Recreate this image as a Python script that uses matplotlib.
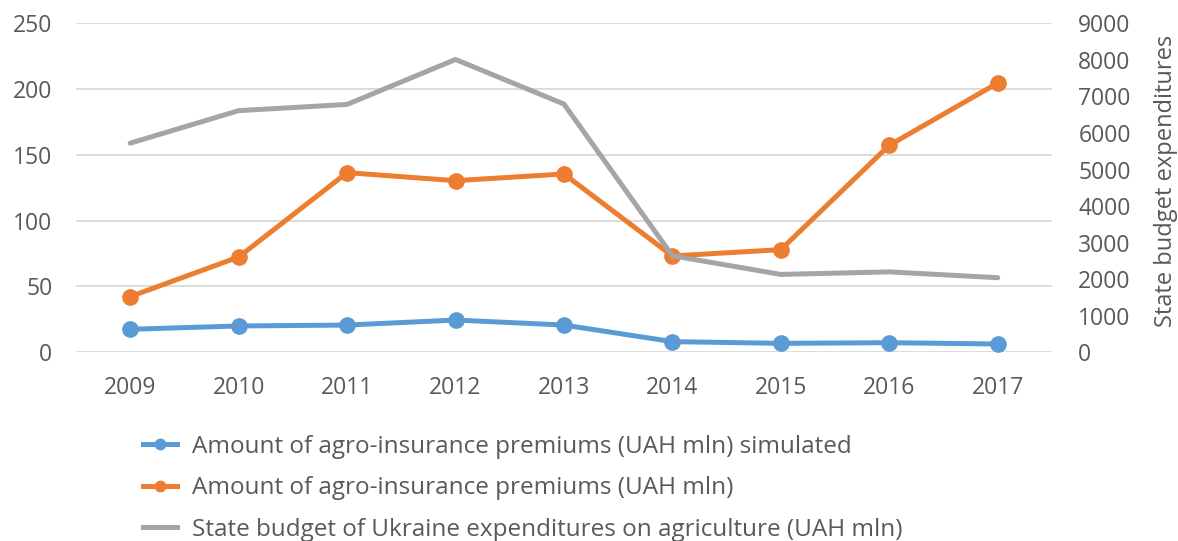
import matplotlib.pyplot as plt
from matplotlib.lines import Line2D

years = ['2009', '2010', '2011', '2012', '2013', '2014', '2015', '2016', '2017']
premiums_simulated = [17.5, 20.0, 20.7, 24.5, 20.7, 8.1, 6.8, 7.3, 6.3]
premiums_actual = [42.3, 72.4, 136.5, 130.4, 135.5, 73.2, 78.0, 157.3, 204.6]
budget_agri = [5720, 6610, 6780, 8010, 6790, 2640, 2130, 2200, 2040]

labels = [
    'Amount of agro-insurance premiums (UAH mln) simulated',
    'Amount of agro-insurance premiums (UAH mln)',
    'State budget of Ukraine expenditures on agriculture (UAH mln)',
]

blue = '#5B9BD5'
orange = '#ED7D31'
gray = '#A5A5A5'
text_col = '#595959'

plt.rcParams['font.family'] = ['Open Sans', 'DejaVu Sans']

fig = plt.figure(figsize=(11.78, 5.41), dpi=100)
ax = fig.add_axes([0.0645, 0.3488, 0.8285, 0.6082])
ax2 = ax.twinx()

x = range(len(years))
ax.plot(x, premiums_simulated, color=blue, lw=3.6, marker='o', ms=11, zorder=3)
ax.plot(x, premiums_actual, color=orange, lw=3.6, marker='o', ms=11, zorder=3)
ax2.plot(x, budget_agri, color=gray, lw=3.6, solid_capstyle='round')

ax.set_xlim(-0.5, len(years) - 0.5)
ax.set_ylim(0, 250)
ax.set_yticks(range(0, 251, 50))
ax2.set_ylim(0, 9000)
ax2.set_yticks(range(0, 9001, 1000))
ax.set_xticks(list(x))
ax.set_xticklabels(years)

ax.grid(axis='y', color='#D9D9D9', lw=1.3)
ax.set_axisbelow(True)
for a in (ax, ax2):
    for s in a.spines.values():
        s.set_visible(False)
    a.tick_params(length=0, labelsize=16.5, labelcolor=text_col)
ax.tick_params(axis='x', pad=17)
ax.tick_params(axis='y', pad=17)
ax2.tick_params(axis='y', pad=19)
ax2.set_ylabel('State budget expenditures', fontsize=17, color=text_col, labelpad=14)
ax2.yaxis.set_label_coords(1.105, 0.52)

handles = [
    Line2D([], [], color=blue, lw=3.6, marker='o', ms=7.5),
    Line2D([], [], color=orange, lw=3.6, marker='o', ms=7.5),
    Line2D([], [], color=gray, lw=3.6),
]
fig.legend(handles, labels, loc='upper left', bbox_to_anchor=(0.1214, 0.196),
           frameon=False, fontsize=17.5, labelcolor=text_col, handlelength=1.4,
           handletextpad=0.62, labelspacing=0.72, borderpad=0, borderaxespad=0)

fig.savefig('out.png', dpi=100)
